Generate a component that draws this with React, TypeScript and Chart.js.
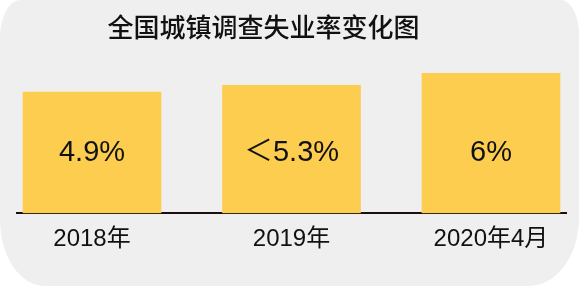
import React, { useEffect, useRef } from "react";
import { Chart, registerables } from "chart.js";

Chart.register(...registerables);

const chartTitle = "全国城镇调查失业率变化图";
const categories = ["2018年", "2019年", "2020年4月"];
const rates = [4.9, 5.3, 6];
const rateLabels = ["4.9%", "＜5.3%", "6%"];

const Y_MIN = -2.24;
const Y_MAX = 6.79;
const LATIN = '"Liberation Sans", "Noto Sans CJK SC", sans-serif';
const CJK = '"Noto Sans CJK SC", sans-serif';

const backgroundPlugin = {
  id: "bgShape",
  beforeDraw(chart: any) {
    const ctx = chart.ctx;
    const W = chart.width;
    const H = chart.height;
    ctx.save();
    ctx.fillStyle = "#ffffff";
    ctx.fillRect(0, 0, W, H);
    const tl = { rx: 20, ry: 38 };
    const tr = { rx: 18, ry: 35 };
    const br = { rx: 50, ry: 68 };
    const bl = { rx: 45, ry: 66 };
    ctx.beginPath();
    ctx.moveTo(tl.rx, 0);
    ctx.lineTo(W - tr.rx, 0);
    ctx.ellipse(W - tr.rx, tr.ry, tr.rx, tr.ry, 0, -Math.PI / 2, 0);
    ctx.lineTo(W, H - br.ry);
    ctx.ellipse(W - br.rx, H - br.ry, br.rx, br.ry, 0, 0, Math.PI / 2);
    ctx.lineTo(bl.rx, H);
    ctx.ellipse(bl.rx, H - bl.ry, bl.rx, bl.ry, 0, Math.PI / 2, Math.PI);
    ctx.lineTo(0, tl.ry);
    ctx.ellipse(tl.rx, tl.ry, tl.rx, tl.ry, 0, Math.PI, Math.PI * 1.5);
    ctx.closePath();
    ctx.fillStyle = "#efefef";
    ctx.fill();
    ctx.restore();
  },
};

const textPlugin = {
  id: "texts",
  afterDatasetsDraw(chart: any) {
    const ctx = chart.ctx;
    ctx.save();
    ctx.fillStyle = "#111111";
    ctx.textAlign = "center";
    ctx.textBaseline = "middle";
    ctx.font = `500 26px ${CJK}`;
    ctx.fillText(chartTitle, chart.width / 2 - 26, 27);
    ctx.font = `29px ${LATIN}`;
    const meta = chart.getDatasetMeta(0);
    meta.data.forEach((bar: any, i: number) => {
      ctx.fillText(rateLabels[i], bar.x, chart.chartArea.bottom - 60);
    });
    ctx.restore();
  },
};

export default function App() {
  const ref = useRef<HTMLCanvasElement | null>(null);
  useEffect(() => {
    if (!ref.current) return;
    const chart = new Chart(ref.current, {
      type: "bar",
      data: {
        datasets: [
          {
            data: rates.map((v, i) => ({ x: i, y: v })),
            backgroundColor: "#fdcd50",
            borderWidth: 0,
            barThickness: 138,
            base: Y_MIN,
          } as any,
        ],
      },
      options: {
        responsive: false,
        animation: false,
        devicePixelRatio: 1,
        layout: { padding: { left: 17, right: 13, top: 60, bottom: 20 } },
        plugins: {
          legend: { display: false },
          tooltip: { enabled: false },
          title: { display: false },
        },
        scales: {
          x: {
            type: "linear",
            offset: false,
            min: -0.376,
            max: 2.376,
            grid: { display: false, drawTicks: false },
            border: { display: true, color: "#1c0f0f", width: 2 },
            afterBuildTicks: (scale: any) => {
              scale.ticks = categories.map((_, i) => ({ value: i }));
            },
            ticks: {
              padding: 12,
              color: "#111111",
              font: { size: 24, family: LATIN },
              maxRotation: 0,
              autoSkip: false,
              callback: (value: any) => categories[value] ?? "",
            },
          } as any,
          y: {
            display: false,
            min: Y_MIN,
            max: Y_MAX,
          },
        },
      },
      plugins: [backgroundPlugin, textPlugin],
    });
    return () => chart.destroy();
  }, []);
  return (
    <div style={{ position: "fixed", left: 0, top: 0, width: 579, height: 286 }}>
      <canvas ref={ref} width={579} height={286} />
    </div>
  );
}
